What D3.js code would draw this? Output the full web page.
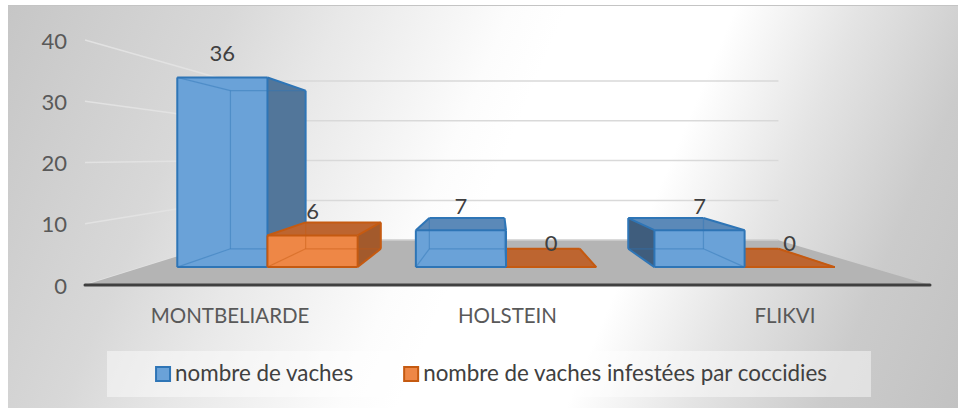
<!DOCTYPE html>
<html>
<head>
<meta charset="utf-8">
<script src="https://cdn.jsdelivr.net/npm/d3@7"></script>
<style>
  body { margin: 0; background: #fff; }
  text { font-family: Lato, "Open Sans", sans-serif; }
</style>
</head>
<body>
<div id="chart"></div>
<script>
// data
const categories = ["MONTBELIARDE", "HOLSTEIN", "FLIKVI"];
const seriesNames = ["nombre de vaches", "nombre de vaches infestées par coccidies"];
const vaches = [36, 7, 7];
const infestees = [6, 0, 0];
const yTicks = [0, 10, 20, 30, 40];

const width = 958, height = 408;
const fontSize = 22;

// fake 3d: front plane + vanishing point
const vp = {x: 497, y: 157};
const floorDepth = 0.35, barFront = 0.14, barBack = 0.283;

const proj = (x, y, d) => [x + d * (vp.x - x), y + d * (vp.y - y)];

const x = d3.scaleBand().domain(categories).range([85, 930])
    .paddingInner(0.244).paddingOuter(0.145);
const xs = d3.scaleBand().domain(seriesNames).range([0, x.bandwidth()]);
const y = d3.scaleLinear().domain([0, 40]).range([285, 40]);

const colors = [
  {front: "#6aa2d8", top: "#5b89b8", right: "#52769a", left: "#3f5d7d", stroke: "#2e75b6"},
  {front: "#ee8746", top: "#bd6530", right: "#a35a2c", left: "#93512a", stroke: "#c55a11"}
];

const svg = d3.select("#chart").append("svg")
    .attr("width", width)
    .attr("height", height);

// background gradient
const defs = svg.append("defs");
const grad = defs.append("linearGradient")
    .attr("id", "bg")
    .attr("gradientUnits", "userSpaceOnUse")
    .attr("x1", 8).attr("y1", 5).attr("x2", 958).attr("y2", 408);
[[0, "#c6c6c6"], [0.2, "#d8d8d8"], [0.3, "#e8e8e8"], [0.45, "#fcfcfc"], [0.5, "#ffffff"],
 [0.65, "#ffffff"], [0.76, "#e4e4e4"], [0.88, "#cbcbcb"], [1, "#c2c2c2"]]
  .forEach(s => grad.append("stop").attr("offset", s[0]).attr("stop-color", s[1]));

svg.append("rect")
    .attr("x", 8).attr("y", 5)
    .attr("width", width - 8).attr("height", height - 5)
    .attr("fill", "url(#bg)");
svg.append("line")
    .attr("x1", 8).attr("x2", width).attr("y1", 5.5).attr("y2", 5.5)
    .attr("stroke", "#c4c4c4");

const [x0, x1] = x.range();

// side wall and back wall gridlines
const grid = svg.append("g");
yTicks.forEach(v => {
  const a = proj(x0, y(v), 0), b = proj(x0, y(v), floorDepth), c = proj(x1, y(v), floorDepth);
  grid.append("path")
      .attr("d", `M${a}L${b}`)
      .attr("stroke", "#e2e2e2").attr("stroke-width", 1.5).attr("fill", "none");
  grid.append("path")
      .attr("d", `M${b}L${c}`)
      .attr("stroke", "#d9d9d9").attr("stroke-width", 1.5).attr("fill", "none");
});

// floor
const floorPts = [proj(x0, y(0), 0), proj(x1, y(0), 0), proj(x1, y(0), floorDepth), proj(x0, y(0), floorDepth)];
svg.append("path")
    .attr("d", "M" + floorPts.join("L") + "Z")
    .attr("fill", "#b4b4b4");
svg.append("path")
    .attr("d", `M${floorPts[2]}L${floorPts[3]}`)
    .attr("stroke", "#c8c8c8").attr("stroke-width", 1.5);
svg.append("line")
    .attr("x1", x0).attr("x2", x1).attr("y1", y(0)).attr("y2", y(0))
    .attr("stroke", "#404040").attr("stroke-width", 3).attr("stroke-linecap", "round");

// bars
const bars = [];
categories.forEach((c, i) => {
  [vaches, infestees].forEach((vals, j) => {
    const l = x(c) + xs(seriesNames[j]);
    bars.push({cat: c, s: j, value: vals[i], l: l, r: l + xs.bandwidth()});
  });
});
// farther from the eye first
bars.sort((a, b) => Math.abs(b.l + b.r - 2 * vp.x) - Math.abs(a.l + a.r - 2 * vp.x));

const barG = svg.append("g");
bars.forEach(b => {
  const t = y(b.value), bt = y(0), col = colors[b.s];
  const P = {
    A: proj(b.l, t, barFront), B: proj(b.r, t, barFront), C: proj(b.r, bt, barFront), D: proj(b.l, bt, barFront),
    E: proj(b.l, t, barBack), F: proj(b.r, t, barBack), G: proj(b.r, bt, barBack), H: proj(b.l, bt, barBack)
  };
  const faces = {
    front: {pts: "ABCD", vis: true, fill: col.front},
    top: {pts: "ABFE", vis: t > vp.y, fill: col.top},
    right: {pts: "BFGC", vis: b.r < vp.x, fill: col.right},
    left: {pts: "AEHD", vis: b.l > vp.x, fill: col.left},
    bottom: {pts: "DCGH", vis: false},
    back: {pts: "EFGH", vis: false}
  };
  const edges = [
    ["AB", "front", "top"], ["BC", "front", "right"], ["CD", "front", "bottom"], ["DA", "front", "left"],
    ["EF", "back", "top"], ["FG", "back", "right"], ["GH", "back", "bottom"], ["HE", "back", "left"],
    ["AE", "top", "left"], ["BF", "top", "right"], ["CG", "bottom", "right"], ["DH", "bottom", "left"]
  ];
  const g = barG.append("g");
  Object.values(faces).filter(f => f.vis).forEach(f => {
    g.append("path")
        .attr("d", "M" + f.pts.split("").map(k => P[k]).join("L") + "Z")
        .attr("fill", f.fill);
  });
  edges.forEach(e => {
    const shown = faces[e[1]].vis || faces[e[2]].vis;
    g.append("path")
        .attr("d", `M${P[e[0][0]]}L${P[e[0][1]]}`)
        .attr("stroke", col.stroke)
        .attr("stroke-width", shown ? 2 : 1.2)
        .attr("stroke-opacity", shown ? 1 : 0.45)
        .attr("stroke-linejoin", "round");
  });
});

// value labels
bars.forEach(b => {
  const p = proj((b.l + b.r) / 2, y(b.value), barFront);
  svg.append("text")
      .attr("x", p[0]).attr("y", p[1] - 24)
      .attr("dy", "0.35em")
      .attr("text-anchor", "middle")
      .attr("font-size", fontSize)
      .attr("fill", "#404040")
      .text(b.value);
});

// value axis labels
svg.append("g").selectAll("text")
  .data(yTicks)
  .join("text")
    .attr("x", 67).attr("y", d => y(d) + 1)
    .attr("dy", "0.35em")
    .attr("text-anchor", "end")
    .attr("font-size", fontSize)
    .attr("fill", "#595959")
    .text(d => d);

// category labels
svg.append("g").selectAll("text")
  .data(categories)
  .join("text")
    .attr("x", d => x(d) + x.bandwidth() / 2)
    .attr("y", 316)
    .attr("dy", "0.35em")
    .attr("text-anchor", "middle")
    .attr("font-size", 20.5)
    .attr("fill", "#595959")
    .text(d => d);

// legend
const legend = svg.append("g");
legend.append("rect")
    .attr("x", 107).attr("y", 351).attr("width", 764).attr("height", 46)
    .attr("fill", "#ffffff").attr("fill-opacity", 0.45);
const items = legend.selectAll("g.item")
  .data(seriesNames)
  .join("g").attr("class", "item");
items.append("rect")
    .attr("width", 14).attr("height", 14)
    .attr("x", 1).attr("y", -14)
    .attr("fill", (d, i) => colors[i].front)
    .attr("stroke", (d, i) => colors[i].stroke)
    .attr("stroke-width", 2);
items.append("text")
    .attr("x", 20).attr("y", 0)
    .attr("font-size", 22.4)
    .attr("fill", "#404040")
    .text(d => d);
const gap = 50;
const widths = items.nodes().map(n => 20 + d3.select(n).select("text").node().getComputedTextLength());
const total = d3.sum(widths) + gap * (widths.length - 1);
let cx = 491 - total / 2;
items.each(function (d, i) {
  d3.select(this).attr("transform", `translate(${cx},381)`);
  cx += widths[i] + gap;
});
</script>
</body>
</html>
